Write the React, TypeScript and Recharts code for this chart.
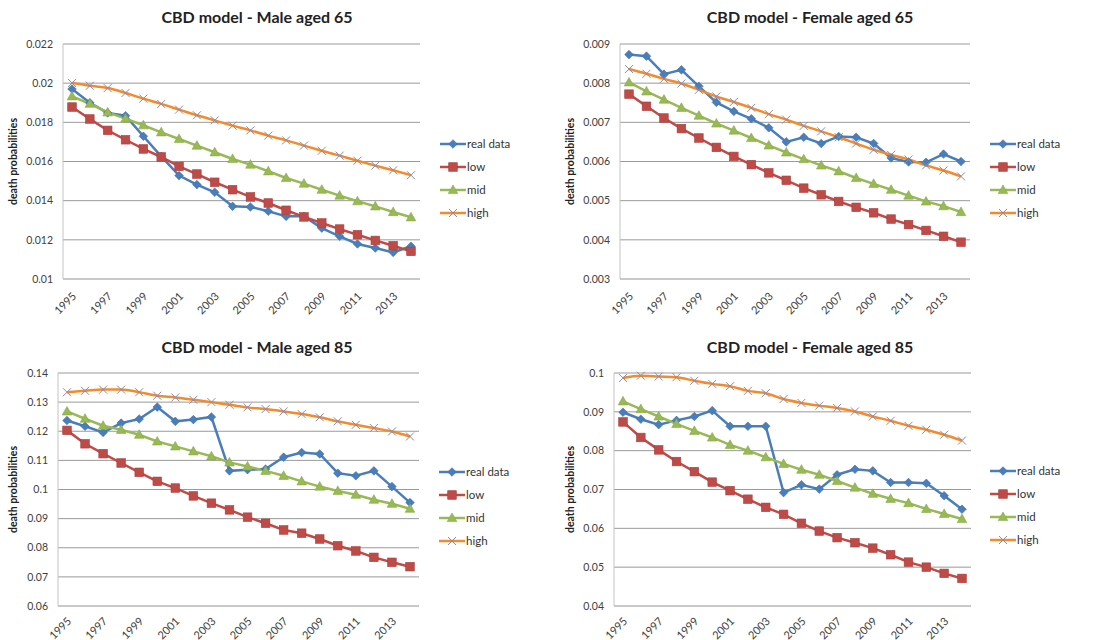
import React from 'react';
import { LineChart, Line, XAxis, YAxis, CartesianGrid, Legend } from 'recharts';

const years = [1995, 1996, 1997, 1998, 1999, 2000, 2001, 2002, 2003, 2004, 2005, 2006, 2007, 2008, 2009, 2010, 2011, 2012, 2013, 2014];

// Male aged 65
const realM65 = [0.0197, 0.019, 0.01848, 0.01834, 0.01729, 0.01626, 0.01528, 0.01482, 0.01443, 0.01371, 0.01368, 0.01346, 0.0132, 0.0132, 0.0126, 0.01218, 0.01179, 0.01158, 0.01136, 0.01167];
const lowM65 = [0.01878, 0.01817, 0.01759, 0.01711, 0.01664, 0.01623, 0.01575, 0.01536, 0.01494, 0.01456, 0.01419, 0.01388, 0.01351, 0.01317, 0.01286, 0.01255, 0.01226, 0.01197, 0.0117, 0.01141];
const midM65 = [0.01933, 0.01895, 0.01851, 0.01819, 0.01785, 0.01749, 0.01715, 0.01681, 0.01647, 0.01613, 0.01584, 0.0155, 0.01516, 0.01487, 0.01456, 0.01426, 0.01397, 0.01371, 0.01342, 0.01315];
const highM65 = [0.02001, 0.01987, 0.01975, 0.0195, 0.01921, 0.01894, 0.01865, 0.01836, 0.0181, 0.01783, 0.01759, 0.01732, 0.01708, 0.01681, 0.01655, 0.0163, 0.01604, 0.01579, 0.01555, 0.0153];
const ticksM65 = [0.01, 0.012, 0.014, 0.016, 0.018, 0.02, 0.022];

// Female aged 65
const realF65 = [0.00873, 0.00869, 0.00823, 0.00834, 0.00792, 0.00751, 0.00728, 0.00709, 0.00686, 0.0065, 0.00662, 0.00646, 0.00664, 0.00662, 0.00646, 0.00609, 0.00599, 0.00598, 0.00619, 0.006];
const lowF65 = [0.00772, 0.00741, 0.00711, 0.00684, 0.0066, 0.00636, 0.00613, 0.00592, 0.00571, 0.00552, 0.00532, 0.00515, 0.00498, 0.00483, 0.00469, 0.00453, 0.00439, 0.00424, 0.00409, 0.00394];
const midF65 = [0.00802, 0.00779, 0.00758, 0.00737, 0.00717, 0.00697, 0.00679, 0.0066, 0.00641, 0.00623, 0.00606, 0.0059, 0.00575, 0.00558, 0.00543, 0.00528, 0.00513, 0.00498, 0.00486, 0.00471];
const highF65 = [0.00836, 0.00824, 0.00811, 0.00799, 0.00783, 0.00766, 0.00752, 0.00737, 0.00721, 0.00707, 0.00691, 0.00677, 0.00662, 0.00646, 0.0063, 0.00617, 0.00605, 0.0059, 0.00577, 0.00562];
const ticksF65 = [0.003, 0.004, 0.005, 0.006, 0.007, 0.008, 0.009];

// Male aged 85
const realM85 = [0.1237, 0.1217, 0.1196, 0.1228, 0.1242, 0.1283, 0.1234, 0.124, 0.1249, 0.1064, 0.1068, 0.107, 0.1111, 0.1127, 0.1122, 0.1056, 0.1047, 0.1064, 0.101, 0.0955];
const lowM85 = [0.1203, 0.1157, 0.1123, 0.1091, 0.1059, 0.1028, 0.1005, 0.0978, 0.0953, 0.093, 0.0905, 0.0884, 0.0861, 0.085, 0.083, 0.0807, 0.0789, 0.0767, 0.075, 0.0735];
const midM85 = [0.1268, 0.1243, 0.1219, 0.1205, 0.1188, 0.1165, 0.1148, 0.1131, 0.1114, 0.1093, 0.1079, 0.1064, 0.1047, 0.1028, 0.101, 0.0995, 0.0982, 0.0965, 0.0951, 0.0934];
const highM85 = [0.1334, 0.1339, 0.1343, 0.1343, 0.1334, 0.1322, 0.1316, 0.1308, 0.13, 0.1291, 0.1282, 0.1276, 0.1268, 0.1259, 0.1248, 0.1234, 0.1222, 0.1211, 0.1199, 0.1182];
const ticksM85 = [0.06, 0.07, 0.08, 0.09, 0.1, 0.11, 0.12, 0.13, 0.14];

// Female aged 85
const realF85 = [0.0899, 0.0881, 0.0867, 0.0878, 0.0888, 0.0903, 0.0863, 0.0863, 0.0863, 0.0692, 0.0712, 0.0701, 0.0738, 0.0752, 0.0748, 0.0718, 0.0718, 0.0716, 0.0684, 0.0649];
const lowF85 = [0.0874, 0.0834, 0.0802, 0.0772, 0.0746, 0.0719, 0.0697, 0.0675, 0.0654, 0.0636, 0.0613, 0.0593, 0.0576, 0.0563, 0.0549, 0.0532, 0.0513, 0.05, 0.0484, 0.0471];
const midF85 = [0.0927, 0.0907, 0.0888, 0.0869, 0.0851, 0.0834, 0.0815, 0.08, 0.0783, 0.0766, 0.0751, 0.0738, 0.0722, 0.0705, 0.0689, 0.0676, 0.0665, 0.065, 0.0637, 0.0624];
const highF85 = [0.0987, 0.0993, 0.0991, 0.0989, 0.098, 0.0972, 0.0966, 0.0954, 0.0948, 0.0933, 0.0923, 0.0916, 0.091, 0.0901, 0.0888, 0.0877, 0.0864, 0.0854, 0.0841, 0.0826];
const ticksF85 = [0.04, 0.05, 0.06, 0.07, 0.08, 0.09, 0.1];

const seriesNames = ['real data', 'low', 'mid', 'high'];
const seriesKeys = ['real', 'low', 'mid', 'high'];
const seriesColors = ['#4a7ebb', '#be4b48', '#98b954', '#f38b2e'];
const xMarkerColor = '#8f8aa3';

const FONT = 'Lato, "Open Sans", sans-serif';

const buildRows = (real: number[], low: number[], mid: number[], high: number[]) =>
  years.map((y, i) => ({ year: y, real: real[i], low: low[i], mid: mid[i], high: high[i] }));

const marker = (kind: string, cx: number, cy: number, key?: string | number) => {
  if (cx == null || cy == null || isNaN(cx) || isNaN(cy)) return <g key={key} />;
  if (kind === 'real') {
    const r = 4.3;
    return <path key={key} d={`M${cx},${cy - r}L${cx + r},${cy}L${cx},${cy + r}L${cx - r},${cy}Z`} fill={seriesColors[0]} stroke="#3f6fa8" strokeWidth={0.6} />;
  }
  if (kind === 'low') {
    const s = 4.3;
    return <rect key={key} x={cx - s} y={cy - s} width={2 * s} height={2 * s} fill={seriesColors[1]} stroke="#a8403e" strokeWidth={0.6} />;
  }
  if (kind === 'mid') {
    return <path key={key} d={`M${cx},${cy - 5}L${cx + 4.8},${cy + 3.6}L${cx - 4.8},${cy + 3.6}Z`} fill={seriesColors[2]} stroke="#89a94a" strokeWidth={0.6} />;
  }
  const r = 4;
  return (
    <g key={key}>
      <line x1={cx - r} y1={cy - r} x2={cx + r} y2={cy + r} stroke={xMarkerColor} strokeWidth={1} />
      <line x1={cx - r} y1={cy + r} x2={cx + r} y2={cy - r} stroke={xMarkerColor} strokeWidth={1} />
    </g>
  );
};

const makeDot = (kind: string) => (props: any) => marker(kind, props.cx, props.cy, props.key ?? `${kind}-${props.index}`);

const makeXTick = (dy: number) => (props: any) => {
  const { x, y, payload } = props;
  return (
    <g transform={`translate(${x + 5},${y + dy})`}>
      <text textAnchor="end" transform="rotate(-45)" fontSize={11} fill="#404040" fontFamily={FONT}>
        {payload.value}
      </text>
    </g>
  );
};

const LegendContent = (props: any) => {
  const raw = props.payload && props.payload.length ? props.payload : seriesKeys.map((k, i) => ({ dataKey: k, value: seriesNames[i], color: seriesColors[i] }));
  const payload = [...raw].sort((a: any, b: any) => seriesKeys.indexOf(String(a.dataKey)) - seriesKeys.indexOf(String(b.dataKey)));
  return (
    <div style={{ fontFamily: FONT, fontSize: 11.5, color: '#333' }}>
      {payload.map((p: any, i: number) => (
        <div key={i} style={{ height: 23, display: 'flex', alignItems: 'center' }}>
          <svg width={26} height={14} style={{ display: 'block' }}>
            <line x1={0} y1={7} x2={26} y2={7} stroke={p.color} strokeWidth={2.5} />
            {marker(String(p.dataKey), 13, 7)}
          </svg>
          <span style={{ marginLeft: 1, lineHeight: '14px' }}>{p.value}</span>
        </div>
      ))}
    </div>
  );
};

type PanelProps = {
  title: string;
  rows: any[];
  ticks: number[];
  left: number;
  top: number;
  width: number;
  margin: { top: number; right: number; bottom: number; left: number };
  titleX: number;
  titleY: number;
  ylabelX: number;
  legendX: number;
  legendY: number;
  tickDy: number;
};

const Panel = (p: PanelProps) => {
  const plotTop = p.margin.top;
  const plotBottom = 320 - p.margin.bottom - 30;
  const XTick = makeXTick(p.tickDy);
  return (
    <div style={{ position: 'absolute', left: p.left, top: p.top, width: p.width, height: 320 }}>
      <div
        style={{
          position: 'absolute',
          left: p.titleX - 150,
          width: 300,
          top: p.titleY - 11,
          textAlign: 'center',
          fontFamily: FONT,
          fontWeight: 700,
          fontSize: 16,
          color: '#222',
          lineHeight: '22px',
        }}
      >
        {p.title}
      </div>
      <LineChart width={p.width} height={320} data={p.rows} margin={p.margin} style={{ overflow: 'visible' }}>
        <CartesianGrid vertical={false} stroke="#9a9a9a" strokeWidth={1} />
        <XAxis
          dataKey="year"
          type="category"
          interval={1}
          tick={<XTick />}
          tickLine={false}
          tickSize={0}
          tickMargin={0}
          height={30}
          padding={{ left: 9, right: 9 }}
          axisLine={{ stroke: '#c4c4c4' }}
        />
        <YAxis
          type="number"
          domain={[p.ticks[0], p.ticks[p.ticks.length - 1]]}
          ticks={p.ticks}
          interval={0}
          width={40}
          tickLine={false}
          tickMargin={4}
          axisLine={{ stroke: '#c4c4c4' }}
          tick={{ fontSize: 10.5, fill: '#404040', fontFamily: FONT }}
          label={() => {
            const cy = (plotTop + plotBottom) / 2;
            return (
              <text
                x={p.ylabelX}
                y={cy}
                transform={`rotate(-90 ${p.ylabelX} ${cy})`}
                textAnchor="middle"
                dominantBaseline="central"
                fontSize={10.5}
                fontWeight={700}
                fill="#222"
                fontFamily={FONT}
              >
                death probabilities
              </text>
            );
          }}
        />
        <Legend
          layout="vertical"
          align="center"
          verticalAlign="middle"
          content={<LegendContent />}
          wrapperStyle={{ left: p.legendX, top: p.legendY, width: 100, height: 92 }}
        />
        {seriesKeys.map((k, i) => (
          <Line
            key={k}
            dataKey={k}
            name={seriesNames[i]}
            type={k === 'high' ? 'monotone' : 'linear'}
            stroke={seriesColors[i]}
            strokeWidth={2.5}
            dot={makeDot(k)}
            activeDot={false}
            isAnimationActive={false}
          />
        ))}
      </LineChart>
    </div>
  );
};

export default function App() {
  return (
    <div style={{ position: 'absolute', left: 0, top: 0, width: 1095, height: 640, background: '#fff', overflow: 'hidden' }}>
      <Panel
        title="CBD model - Male aged 65"
        rows={buildRows(realM65, lowM65, midM65, highM65)}
        ticks={ticksM65}
        left={0}
        top={0}
        width={545}
        margin={{ top: 44, right: 125, bottom: 11, left: 23 }}
        titleX={257}
        titleY={17}
        ylabelX={13}
        legendX={440}
        legendY={132}
        tickDy={18}
      />
      <Panel
        title="CBD model - Female aged 65"
        rows={buildRows(realF65, lowF65, midF65, highF65)}
        ticks={ticksF65}
        left={545}
        top={0}
        width={550}
        margin={{ top: 44, right: 125, bottom: 11, left: 35 }}
        titleX={265}
        titleY={17}
        ylabelX={25}
        legendX={445}
        legendY={132}
        tickDy={18}
      />
      <Panel
        title="CBD model - Male aged 85"
        rows={buildRows(realM85, lowM85, midM85, highM85)}
        ticks={ticksM85}
        left={0}
        top={320}
        width={545}
        margin={{ top: 53, right: 126, bottom: 4, left: 18 }}
        titleX={257}
        titleY={27}
        ylabelX={13}
        legendX={439}
        legendY={140}
        tickDy={16}
      />
      <Panel
        title="CBD model - Female aged 85"
        rows={buildRows(realF85, lowF85, midF85, highF85)}
        ticks={ticksF85}
        left={545}
        top={320}
        width={550}
        margin={{ top: 53, right: 124, bottom: 4, left: 29 }}
        titleX={265}
        titleY={27}
        ylabelX={25}
        legendX={445}
        legendY={139}
        tickDy={16}
      />
    </div>
  );
}
